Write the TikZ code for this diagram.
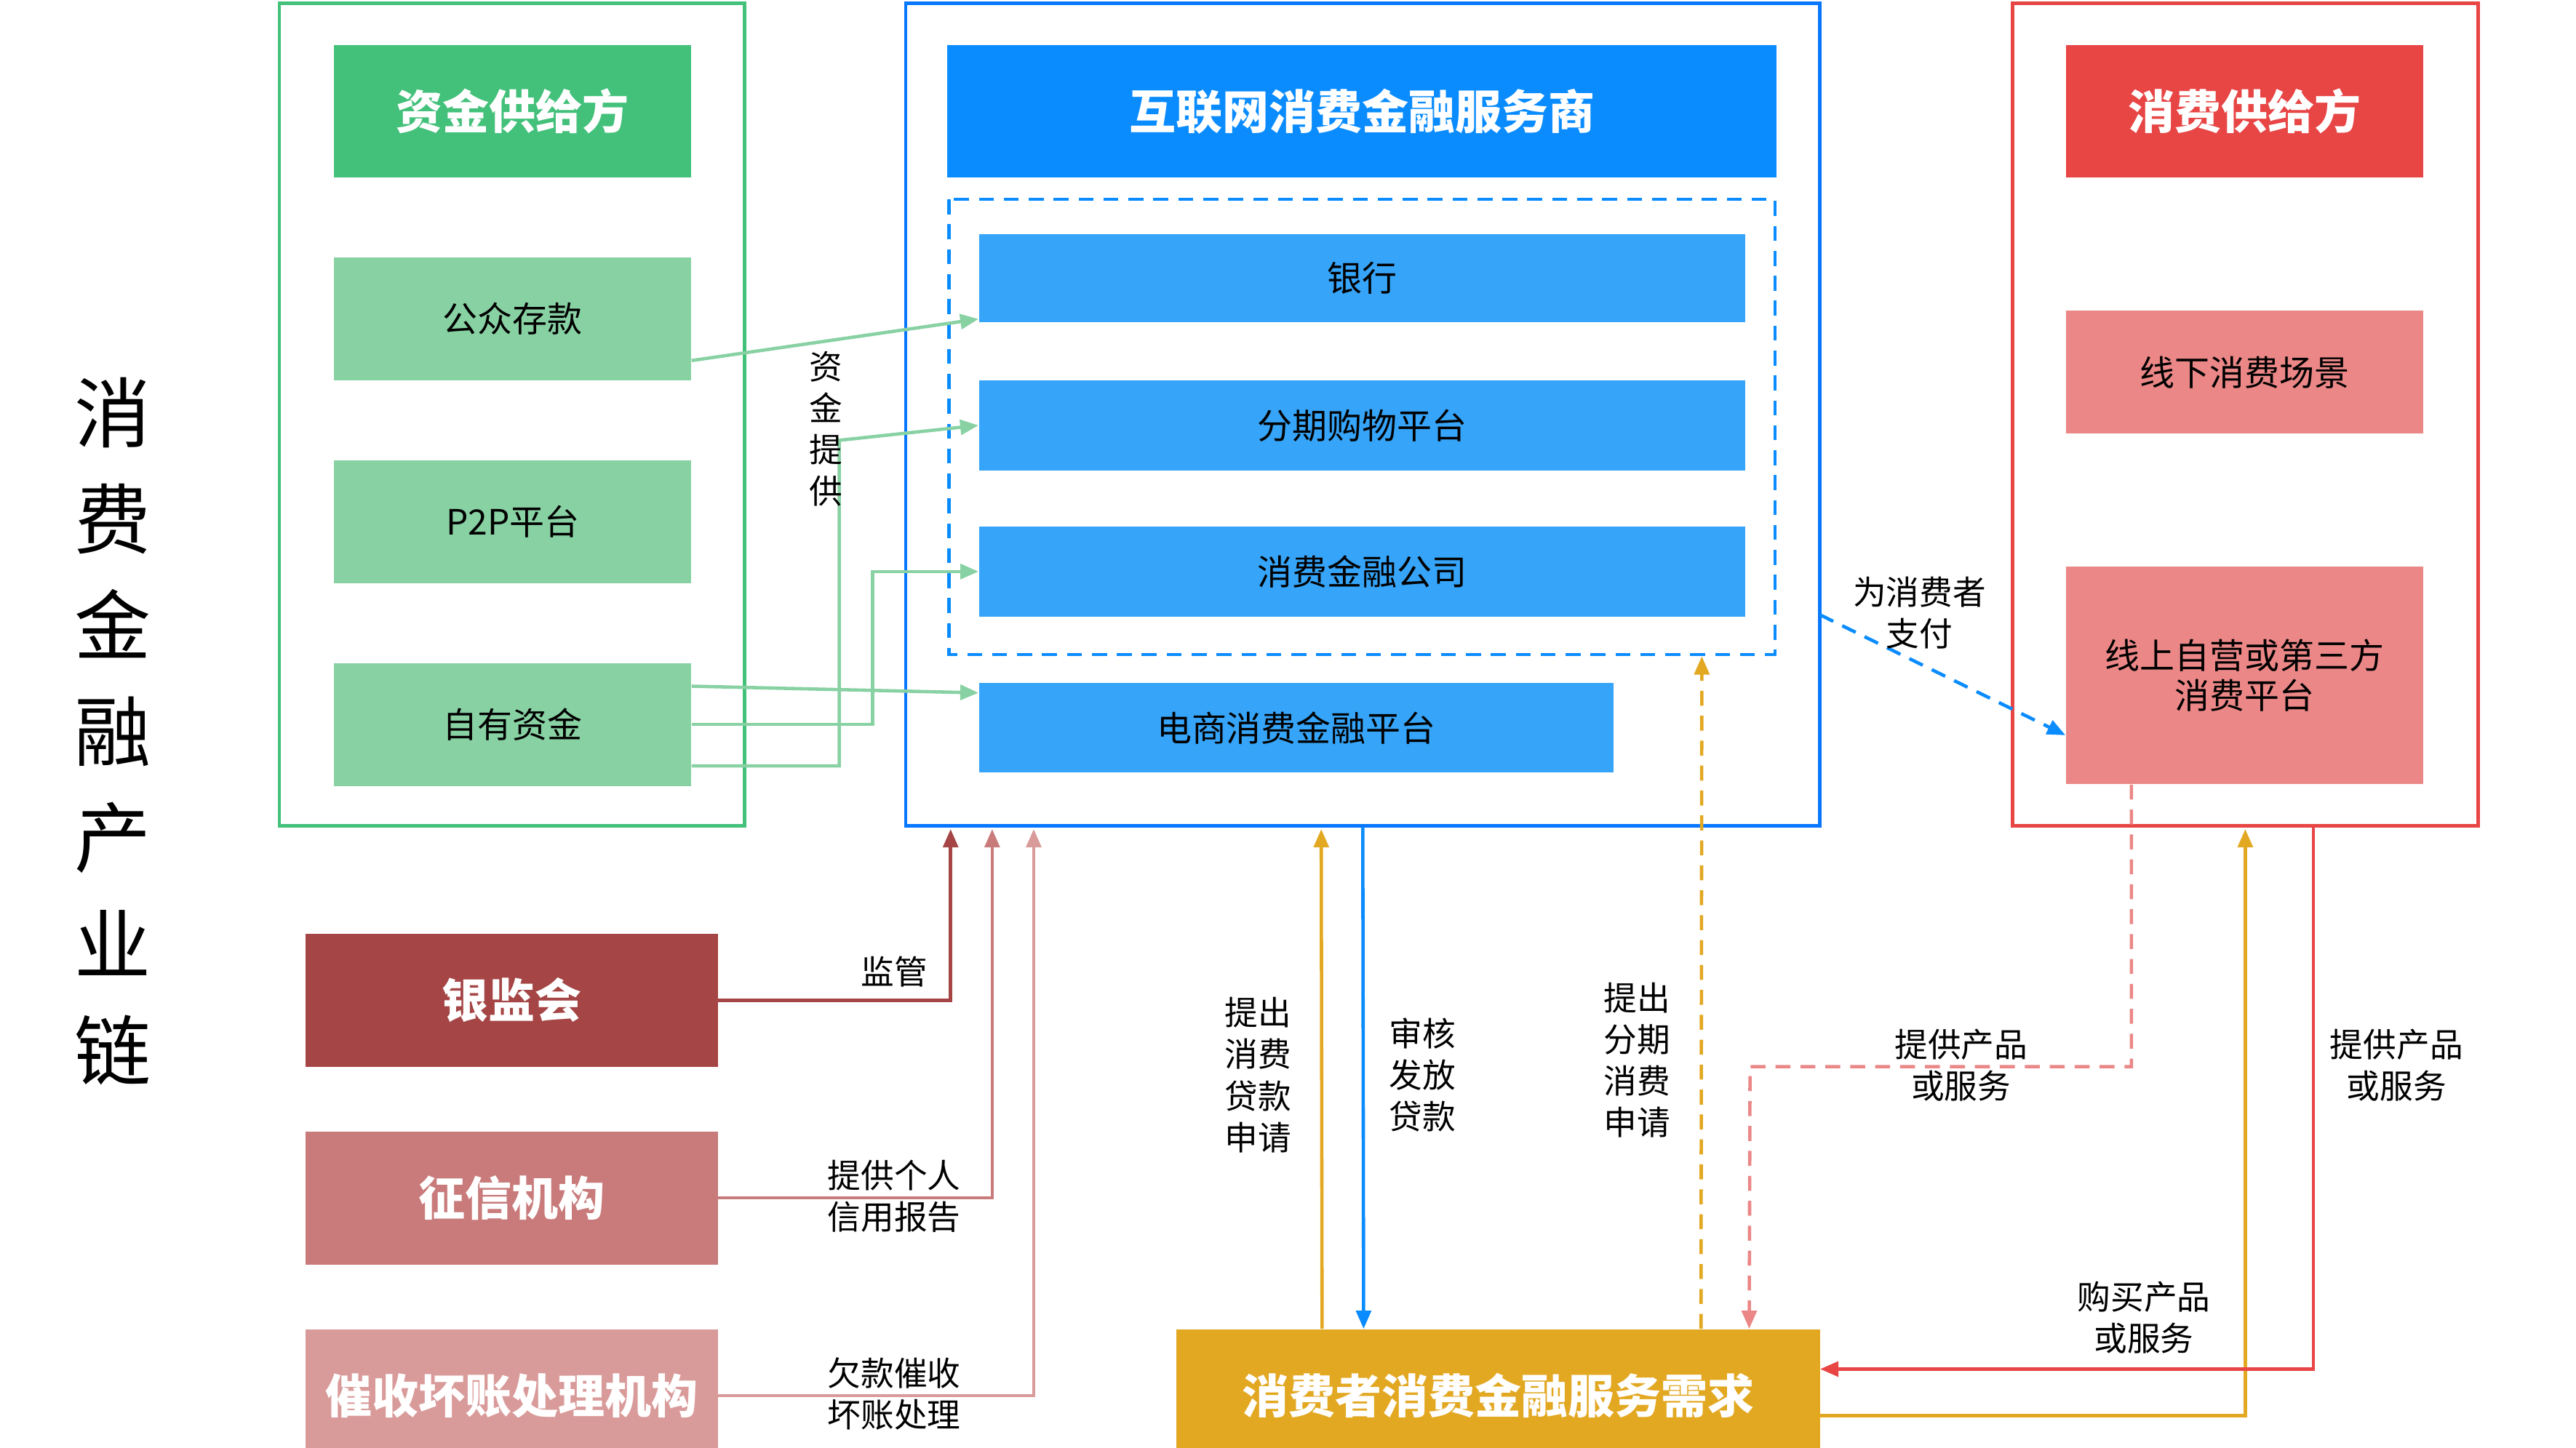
\documentclass[tikz,border=0pt]{standalone}
\usepackage{fontspec}
\setmainfont{Noto Sans CJK SC}
\usetikzlibrary{arrows.meta,positioning}
\definecolor{gHead}{HTML}{43C17B}
\definecolor{gBox}{HTML}{88D1A3}
\definecolor{bHead}{HTML}{0A8CFF}
\definecolor{bBox}{HTML}{36A4F8}
\definecolor{rHead}{HTML}{E84545}
\definecolor{rBox}{HTML}{EB8787}
\definecolor{yBox}{HTML}{E3A822}
\definecolor{dRed}{HTML}{A54545}
\definecolor{mRed}{HTML}{C97B7B}
\definecolor{lRed}{HTML}{D99A9A}
\tikzset{
  box/.style={inner sep=0pt,text=black,font=\fontsize{21}{24}\selectfont,align=center},
  head/.style={inner sep=0pt,text=white,font=\fontsize{28}{32}\selectfont\bfseries,align=center},
  lbl/.style={font=\fontsize{20}{25}\selectfont,align=center},
  arr/.style={line width=2pt,-{Triangle[length=11pt,width=9pt]}},
}
\begin{document}
\begin{tikzpicture}[x=1pt,y=-1pt]
\useasboundingbox (0,0) rectangle (1550,871.5);
% outer frames
\draw[gHead,line width=2pt] (168,2) rectangle (448,497);
\draw[bHead!85!blue,line width=2pt] (545,2) rectangle (1095,497);
\draw[rHead,line width=2pt] (1211,2) rectangle (1491,497);
\draw[bHead,line width=2pt,dash pattern=on 9pt off 6pt] (571,120) rectangle (1068,394);

\node[font=\fontsize{46}{64}\selectfont,align=center] (title) at (68,440) {消\\费\\金\\融\\产\\业\\链};

% supply of funds
\node[head,fill=gHead,minimum width=215,minimum height=80] (zj) at (308.5,67) {资金供给方};
\node[box,fill=gBox,minimum width=215,minimum height=74] (gz) at (308.5,192) {公众存款};
\node[box,fill=gBox,minimum width=215,minimum height=74] (p2p) at (308.5,314) {P2P平台};
\node[box,fill=gBox,minimum width=215,minimum height=74] (zy) at (308.5,436) {自有资金};

% service providers
\node[head,fill=bHead,minimum width=499,minimum height=80] (hlw) at (819.5,67) {互联网消费金融服务商};
\node[box,fill=bBox,minimum width=461,minimum height=53] (yh) at (819.5,167.5) {银行};
\node[box,fill=bBox,minimum width=461,minimum height=54] (fq) at (819.5,256) {分期购物平台};
\node[box,fill=bBox,minimum width=461,minimum height=54] (xf) at (819.5,344) {消费金融公司};
\node[box,fill=bBox,minimum width=382,minimum height=54] (ds) at (780,438) {电商消费金融平台};

% consumption supply
\node[head,fill=rHead,minimum width=215,minimum height=80] (xg) at (1350.5,67) {消费供给方};
\node[box,fill=rBox,minimum width=215,minimum height=74] (xx) at (1350.5,224) {线下消费场景};
\node[box,fill=rBox,minimum width=215,minimum height=131] (xs) at (1350.5,406.5) {线上自营或第三方\\消费平台};

% regulators etc
\node[head,fill=dRed,minimum width=248,minimum height=80] (yjh) at (308,602) {银监会};
\node[head,fill=mRed,minimum width=248,minimum height=80] (zx) at (308,721) {征信机构};
\node[head,fill=lRed,minimum width=248,minimum height=80] (cs) at (308,840) {催收坏账处理机构};
\node[head,fill=yBox,minimum width=387,minimum height=80] (xq) at (901.5,840) {消费者消费金融服务需求};

% funds
\draw[arr,gBox] ([yshift=-25]gz.east) -- ([yshift=0]gz.east -| yh.west);
\draw[arr,gBox] ([yshift=-25]zy.east) -| (505,265) -- (fq.west);
\draw[arr,gBox] (zy.east) -| (525,344) -- (xf.west);
\draw[arr,gBox] ([yshift=23]zy.east) -- ([yshift=21]ds.west);
\node[lbl] (zjtg) at (497,258) {资\\金\\提\\供};

\draw[arr,dRed] (yjh.east) -| (572,499);
\node[lbl] at (538,585) {监管};
\draw[arr,mRed] (zx.east) -| (597,499);
\node[lbl] at (538,720) {提供个人\\信用报告};
\draw[arr,lRed] (cs.east) -| (622,499);
\node[lbl] at (538,839) {欠款催收\\坏账处理};

% demand
\draw[arr,yBox] ([xshift=-106]xq.north) -- (795,499);
\node[lbl] at (757,647) {提出\\消费\\贷款\\申请};
\draw[arr,bHead] (820,498) -- ([xshift=-81]xq.north);
\node[lbl] at (856,647) {审核\\发放\\贷款};
\draw[arr,yBox,dash pattern=on 9pt off 6pt] ([xshift=122]xq.north) -- (1024,395);
\node[lbl] at (985,638) {提出\\分期\\消费\\申请};
\draw[arr,bHead,dash pattern=on 9pt off 6pt] (1095,370) -- ([yshift=-36]xs.west);
\node[lbl] at (1155,369) {为消费者\\支付};
\draw[arr,rBox,dash pattern=on 9pt off 6pt] ([xshift=-68]xs.south) |- (1053,642) -- ([xshift=151]xq.north);
\node[lbl] at (1180,641) {提供产品\\或服务};
\draw[arr,yBox] ([yshift=-12]xq.east) -| (1351,499);
\node[lbl] at (1290,793) {购买产品\\或服务};
\draw[arr,rHead] (1392,497) |- ([yshift=16]xq.east);
\node[lbl] at (1442,641) {提供产品\\或服务};
\end{tikzpicture}
\end{document}
